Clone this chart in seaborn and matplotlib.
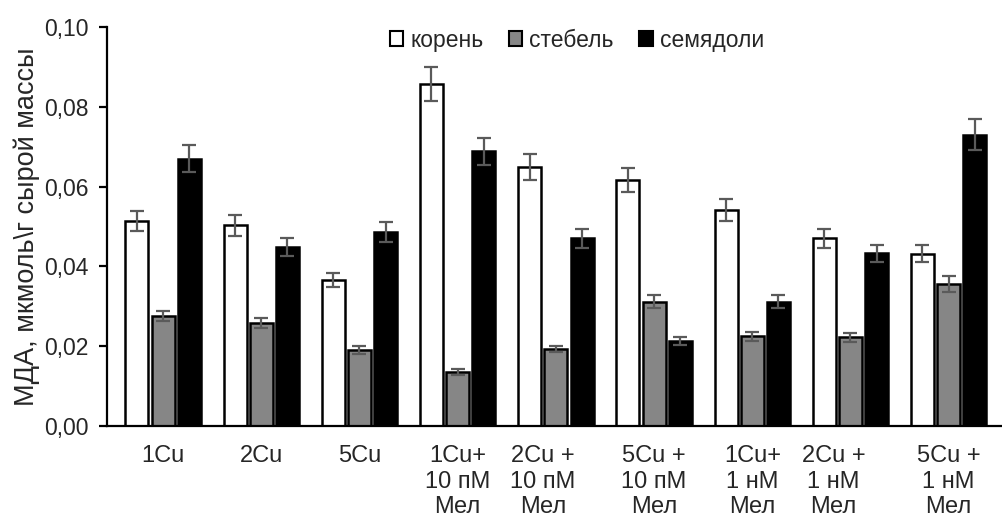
import numpy as np
import pandas as pd
import matplotlib
matplotlib.use("Agg")
import matplotlib.pyplot as plt
import matplotlib.patches as mpatches
import matplotlib.transforms as mtransforms
from matplotlib.ticker import FuncFormatter
import seaborn as sns

# variants of the experiment (x axis)
groups = ["1Cu", "2Cu", "5Cu", "1Cu+\n10 пМ\nМел", "2Cu +\n10 пМ\nМел",
          "5Cu +\n10 пМ\nМел", "1Cu+\n1 нМ\nМел", "2Cu +\n1 нМ\nМел", "5Cu +\n1 нМ\nМел"]
organs = ["корень", "стебель", "семядоли"]

# MDA values
root = [0.0514, 0.0503, 0.0366, 0.0857, 0.0649, 0.0616, 0.0542, 0.0470, 0.0432]
stem = [0.0276, 0.0258, 0.0190, 0.0136, 0.0193, 0.0312, 0.0225, 0.0222, 0.0355]
cotyl = [0.0670, 0.0449, 0.0487, 0.0688, 0.0470, 0.0212, 0.0312, 0.0433, 0.0730]

# error bar half-widths
root_err = [0.0025, 0.0026, 0.0017, 0.0043, 0.0032, 0.0030, 0.0027, 0.0023, 0.0022]
stem_err = [0.0013, 0.0013, 0.0010, 0.0008, 0.0008, 0.0017, 0.0011, 0.0012, 0.0020]
cotyl_err = [0.0033, 0.0023, 0.0025, 0.0035, 0.0024, 0.0010, 0.0017, 0.0021, 0.0039]

colors = ["white", "#868686", "black"]

sns.set_style("white")
plt.rcParams["font.family"] = ["Liberation Sans", "DejaVu Sans"]
plt.rcParams["font.size"] = 16.5

# long-form table for seaborn
df = pd.DataFrame({
    "group": groups * 3,
    "organ": np.repeat(organs, len(groups)),
    "value": root + stem + cotyl,
})
errs = [root_err, stem_err, cotyl_err]

fig = plt.figure(figsize=(10.03, 5.22), dpi=100)
ax = fig.add_axes([0.1067, 0.1839, 0.892, 0.7644])

sns.barplot(data=df, x="group", y="value", hue="organ", order=groups, hue_order=organs,
            palette=colors, edgecolor="black", linewidth=1.8, gap=0.12, width=0.8,
            errorbar=None, legend=False, ax=ax)

# error bars placed on the bar centres
for cont, err in zip(ax.containers, errs):
    xs = [p.get_x() + p.get_width() / 2 for p in cont.patches]
    ys = [p.get_height() for p in cont.patches]
    ax.errorbar(xs, ys, yerr=err, fmt="none", ecolor="#5a5a5a", elinewidth=1.6,
                capsize=5, capthick=1.6, zorder=5)

ax.set_ylim(0, 0.10)
ax.set_xlim(-0.571, 8.54)
ax.set_yticks(np.arange(0, 0.101, 0.02))
ax.yaxis.set_major_formatter(FuncFormatter(lambda v, p: f"{v:.2f}".replace(".", ",")))
ax.set_xlabel("")
ax.set_ylabel("МДА, мкмоль\\г сырой массы", fontsize=19.5, labelpad=3)

for s in ["top", "right"]:
    ax.spines[s].set_visible(False)
for s in ["left", "bottom"]:
    ax.spines[s].set_color("black")
    ax.spines[s].set_linewidth(1.6)

ax.tick_params(axis="y", which="major", left=True, length=6, width=1.6, color="black",
               pad=7, labelsize=16.5)
ax.tick_params(axis="x", length=0, pad=14, labelsize=17)

# the "2Cu +" labels sit a little left of their groups in the original
shift_px = {4: -13, 7: -17}
for i, lab in enumerate(ax.get_xticklabels()):
    lab.set_linespacing(1.2)
    if i in shift_px:
        off = mtransforms.ScaledTranslation(shift_px[i] / 100, 0, fig.dpi_scale_trans)
        lab.set_transform(lab.get_transform() + off)

handles = [mpatches.Patch(facecolor=c, edgecolor="black", linewidth=1.5, label=o)
           for c, o in zip(colors, organs)]
ax.legend(handles=handles, loc="center", bbox_to_anchor=(0.525, 0.967), ncol=3,
          frameon=False, handlelength=0.6, handleheight=0.6, handletextpad=0.3,
          columnspacing=1.1, fontsize=16.5)

fig.savefig("out.png", dpi=100)
